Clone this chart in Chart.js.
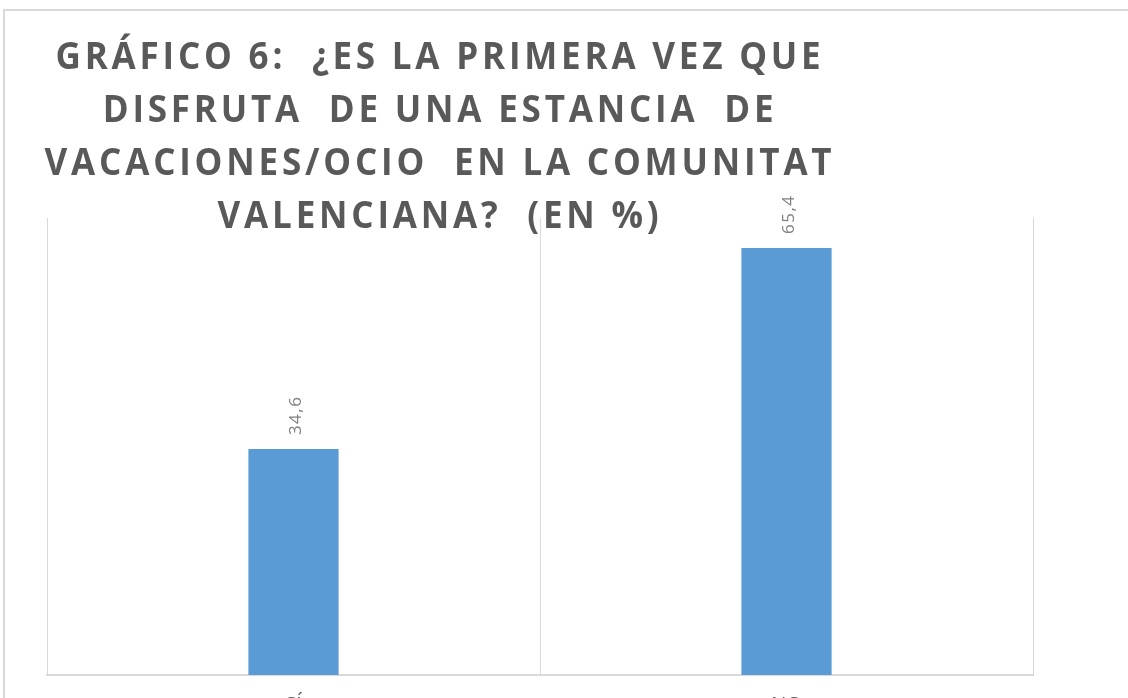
<!DOCTYPE html>
<html>
<head>
<meta charset="utf-8">
<script src="https://cdn.jsdelivr.net/npm/chart.js@4"></script>
<style>
  html, body { margin: 0; padding: 0; background: #fff; overflow: hidden; }
  #wrap { position: absolute; left: 0; top: 0; width: 1128px; height: 743px; }
</style>
</head>
<body>
<div id="wrap"><canvas id="myChart" width="1128" height="743"></canvas></div>
<script>
let categories = ['SÍ', 'NO'];
let percentages = [34.6, 65.4];
let valueLabels = ['34,6', '65,4'];
let titleLines = [
  'GRÁFICO 6:  ¿ES LA PRIMERA VEZ QUE',
  'DISFRUTA  DE UNA ESTANCIA  DE',
  'VACACIONES/OCIO  EN LA COMUNITAT',
  'VALENCIANA?  (EN %)'
];
let yMax = 70;

// frame round the chart, like the cropped excel box
const framePlugin = {
  id: 'frame',
  beforeDraw(chart) {
    let ctx = chart.ctx;
    ctx.save();
    ctx.strokeStyle = '#d9d9d9';
    ctx.lineWidth = 2;
    ctx.beginPath();
    ctx.moveTo(4, 743);
    ctx.lineTo(4, 10);
    ctx.lineTo(1128, 10);
    ctx.stroke();
    ctx.restore();
  }
};

const titlePlugin = {
  id: 'bigTitle',
  afterDraw(chart) {
    let ctx = chart.ctx;
    ctx.save();
    ctx.font = 'bold 37px "Liberation Sans Narrow", "Open Sans"';
    ctx.letterSpacing = '4px';
    ctx.fillStyle = '#595959';
    ctx.textAlign = 'center';
    ctx.textBaseline = 'alphabetic';
    let w = ctx.measureText(titleLines[0]).width;
    let sx = 769 / w;
    let baselines = [69, 122, 175, 228];
    for (let i = 0; i < titleLines.length; i++) {
      ctx.save();
      ctx.translate(440, baselines[i]);
      ctx.scale(sx, 1);
      ctx.fillText(titleLines[i], 0, 0);
      ctx.restore();
    }
    ctx.restore();
  }
};

const valuePlugin = {
  id: 'valueLabels',
  afterDatasetsDraw(chart) {
    let ctx = chart.ctx;
    let meta = chart.getDatasetMeta(0);
    ctx.save();
    ctx.font = '17px "Open Sans"';
    ctx.letterSpacing = '1.5px';
    ctx.fillStyle = '#808080';
    ctx.textAlign = 'left';
    ctx.textBaseline = 'middle';
    meta.data.forEach(function (bar, i) {
      ctx.save();
      ctx.translate(bar.x + 3, bar.y - 14);
      ctx.rotate(-Math.PI / 2);
      ctx.fillText(valueLabels[i], 0, 0);
      ctx.restore();
    });
    ctx.restore();
  }
};

const data = {
  labels: categories,
  datasets: [{
    data: percentages,
    backgroundColor: '#5b9bd5',
    borderWidth: 0,
    barPercentage: 0.183,
    categoryPercentage: 1
  }]
};

const config = {
  type: 'bar',
  data: data,
  options: {
    responsive: false,
    animation: false,
    layout: {
      padding: { left: 47, right: 95, top: 218, bottom: 8 }
    },
    plugins: {
      legend: { display: false },
      tooltip: { enabled: false },
      title: { display: false }
    },
    scales: {
      x: {
        grid: { color: '#d9d9d9', lineWidth: 1, offset: true, drawTicks: false },
        border: { color: '#d9d9d9', width: 2 },
        ticks: {
          color: '#595959',
          padding: 18,
          font: { family: 'Open Sans', size: 20 }
        }
      },
      y: {
        display: false,
        min: 0,
        max: yMax
      }
    }
  },
  plugins: [framePlugin, valuePlugin, titlePlugin]
};

let canvasChart = document.getElementById('myChart');
new Chart(canvasChart, config);
</script>
</body>
</html>
